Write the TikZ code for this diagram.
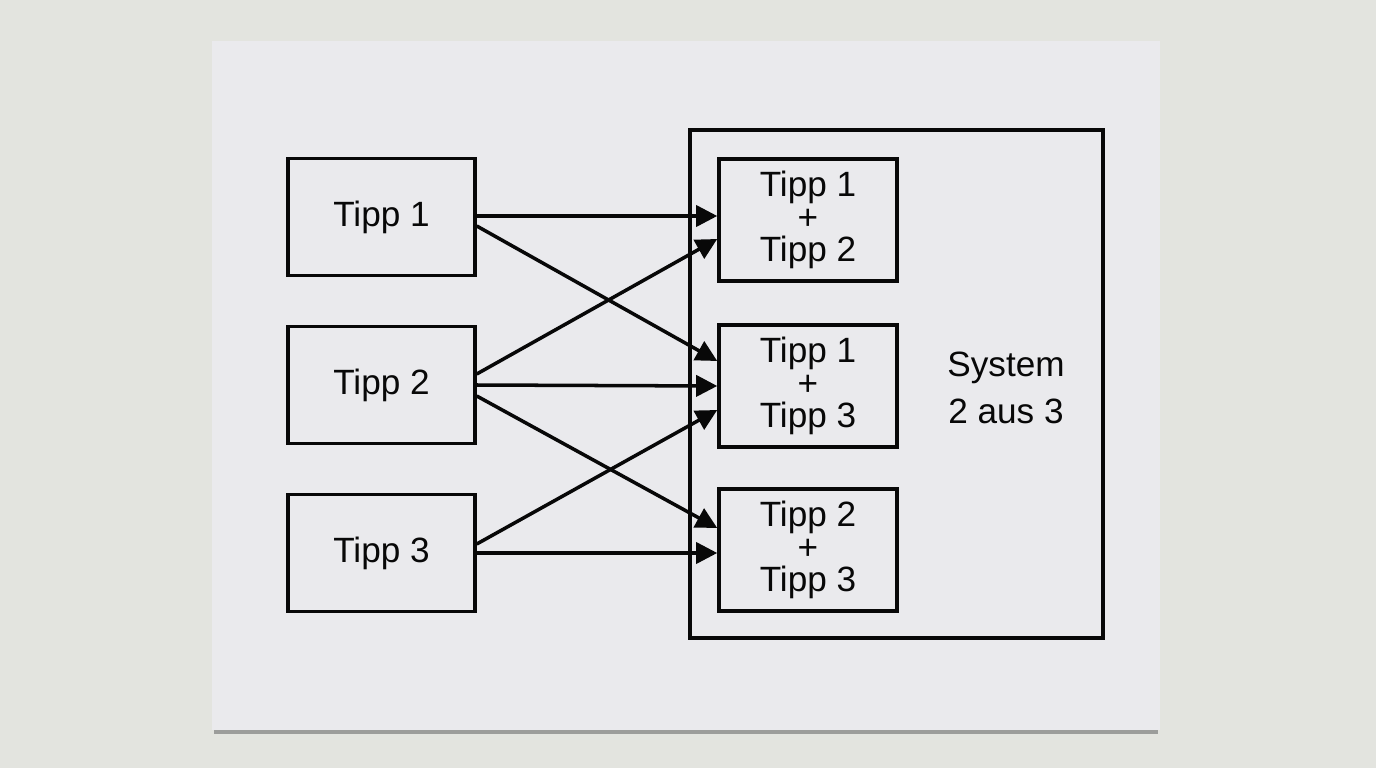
\documentclass[tikz,border=0pt]{standalone}
\usepackage{fontspec}
\setmainfont{Liberation Sans}
\usetikzlibrary{arrows.meta, positioning}
\definecolor{zdesk}{RGB}{227, 228, 223}
\definecolor{zpaper}{RGB}{234, 234, 237}
\definecolor{zshade}{RGB}{110, 110, 110}
\definecolor{zink}{RGB}{8, 8, 8}

\begin{document}
\begin{tikzpicture}[
  tippbox/.style={rectangle, draw=zink, line width=1pt,
                  minimum width=1.87cm, minimum height=1.17cm,
                  align=center, font=\fontsize{10}{9.2}\selectfont, text=zink},
  pairbox/.style={rectangle, draw=zink, line width=1pt,
                  minimum width=1.78cm, minimum height=1.22cm,
                  align=center, font=\fontsize{10}{9.2}\selectfont, text=zink},
  sysbox/.style={rectangle, draw=zink, line width=1pt,
                 minimum width=4.13cm, minimum height=5.08cm},
  arr/.style={-{Triangle[length=6pt, width=6pt]}, line width=1pt, zink}
]

% Desk and sheet of paper
\fill[zdesk] (0,0) rectangle (13.76,-7.68);
\useasboundingbox (0,0) rectangle (13.76,-7.68);
\fill[zshade, opacity=0.6] (2.14,-7.28) rectangle (11.58,-7.34);
\fill[zpaper] (2.12,-0.41) rectangle (11.60,-7.30);

% Outer system box
\node[sysbox] (sys) at (8.965,-3.84) {};
\node[font=\fontsize{10}{13.4}\selectfont, align=center, text=zink] (lbl) at (10.06,-3.88) {System\\2 aus 3};

% Single tips on the left
\node[tippbox] (t1) at (3.815,-2.17) {Tipp 1};
\node[tippbox] (t2) at (3.815,-3.85) {Tipp 2};
\node[tippbox] (t3) at (3.815,-5.53) {Tipp 3};

% Pairs inside the system box
\node[pairbox] (p12) at (8.08,-2.20) {Tipp 1\\+\\Tipp 2};
\node[pairbox] (p13) at (8.08,-3.86) {Tipp 1\\+\\Tipp 3};
\node[pairbox] (p23) at (8.08,-5.50) {Tipp 2\\+\\Tipp 3};

% Tipp 1 goes to the first two pairs
\draw[arr] ([yshift=0.01cm]t1.east)  -- ([yshift=0.04cm]p12.west);
\draw[arr] ([yshift=-0.09cm]t1.east) -- ([yshift=0.25cm]p13.west);

% Tipp 2 goes to all three pairs
\draw[arr] ([yshift=0.11cm]t2.east)  -- ([yshift=-0.19cm]p12.west);
\draw[arr] (t2.east)                 -- (p13.west);
\draw[arr] ([yshift=-0.11cm]t2.east) -- ([yshift=0.22cm]p23.west);

% Tipp 3 goes to the last two pairs
\draw[arr] ([yshift=0.09cm]t3.east)  -- ([yshift=-0.24cm]p13.west);
\draw[arr] (t3.east)                 -- ([yshift=-0.03cm]p23.west);

\end{tikzpicture}
\end{document}
